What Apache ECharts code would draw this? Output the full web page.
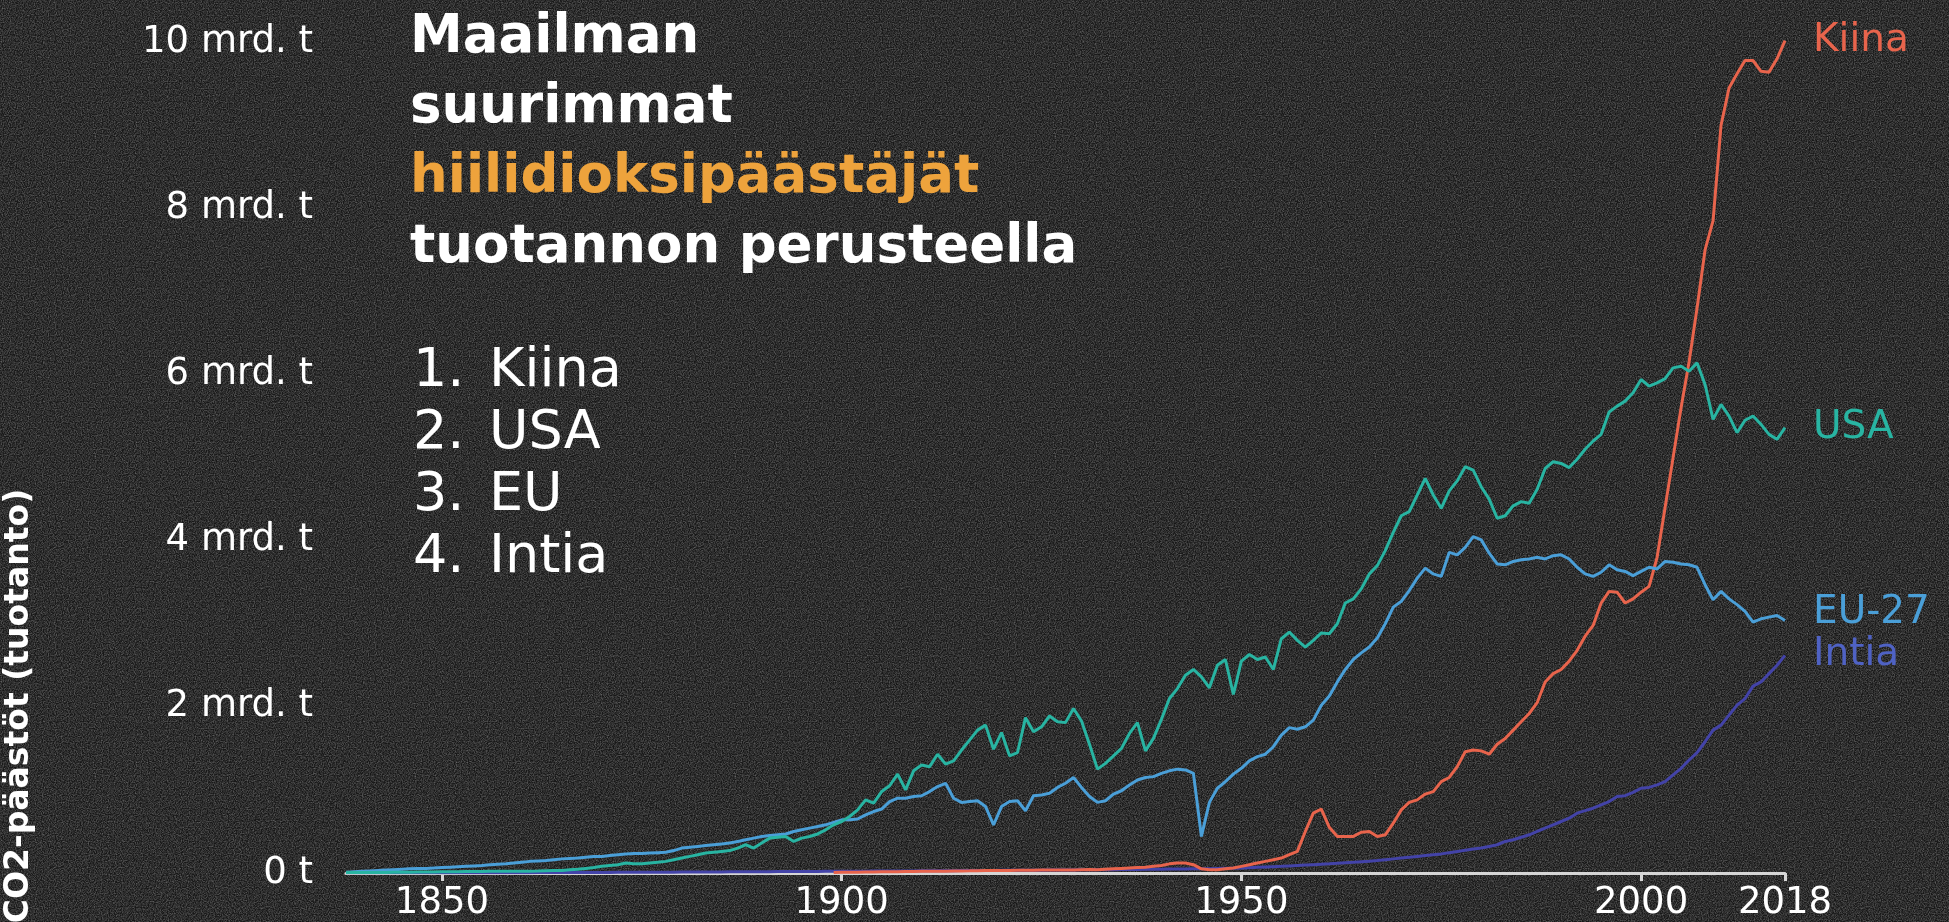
<!DOCTYPE html>
<html>
<head>
<meta charset="utf-8">
<title>Maailman suurimmat hiilidioksipäästäjät</title>
<script src="https://cdn.jsdelivr.net/npm/echarts@6/dist/echarts.min.js"></script>
<style>
  html, body {
    margin: 0;
    padding: 0;
    background-color: #171717;
    /* grainy dark backdrop */
    background-image: url("data:image/svg+xml,%3Csvg xmlns='http://www.w3.org/2000/svg' width='320' height='320'%3E%3Cfilter id='n'%3E%3CfeTurbulence type='fractalNoise' baseFrequency='0.85' numOctaves='2' stitchTiles='stitch'/%3E%3CfeColorMatrix values='0 0 0 0 1 0 0 0 0 1 0 0 0 0 1 0 0 0 1.4 -0.45'/%3E%3C/filter%3E%3Crect width='100%25' height='100%25' filter='url(%23n)' opacity='0.4'/%3E%3C/svg%3E");
  }
  #chart {
    width: 1949px;
    height: 922px;
  }
</style>
</head>
<body>
<div id="chart"></div>
<script>
// CO2-päästöt, mrd. tonnia vuodessa
const startYear = 1838
const kiinaStart = 1899

const usa = [
  0.005, 0.005, 0.006, 0.006, 0.007, 0.007, 0.008, 0.009, 0.010, 0.011, 0.012, 0.013,
  0.014, 0.015, 0.016, 0.017, 0.018, 0.019, 0.020, 0.021, 0.021, 0.022,
  0.022, 0.022, 0.024, 0.027, 0.030, 0.030, 0.038, 0.045, 0.055, 0.065,
  0.080, 0.090, 0.100, 0.120, 0.110, 0.110, 0.120, 0.130, 0.140, 0.160,
  0.180, 0.200, 0.220, 0.240, 0.250, 0.260, 0.270, 0.300, 0.340, 0.300,
  0.360, 0.420, 0.430, 0.440, 0.380, 0.420, 0.440, 0.470, 0.520, 0.580,
  0.620, 0.680, 0.760, 0.880, 0.840, 0.980, 1.050, 1.190, 1.000, 1.230,
  1.300, 1.280, 1.430, 1.310, 1.350, 1.480, 1.600, 1.720, 1.780, 1.490,
  1.690, 1.410, 1.450, 1.870, 1.700, 1.760, 1.890, 1.820, 1.810, 1.980,
  1.830, 1.550, 1.250, 1.320, 1.410, 1.500, 1.680, 1.810, 1.470, 1.620,
  1.850, 2.100, 2.220, 2.380, 2.450, 2.360, 2.230, 2.500, 2.570, 2.150,
  2.550, 2.630, 2.570, 2.600, 2.450, 2.820, 2.900, 2.800, 2.720, 2.800,
  2.890, 2.880, 3.000, 3.250, 3.300, 3.420, 3.600, 3.700, 3.880, 4.100,
  4.300, 4.350, 4.550, 4.750, 4.550, 4.390, 4.600, 4.720, 4.890, 4.850,
  4.650, 4.500, 4.270, 4.300, 4.420, 4.470, 4.450, 4.620, 4.870, 4.950,
  4.930, 4.880, 4.980, 5.100, 5.200, 5.280, 5.550, 5.620, 5.680, 5.780,
  5.940, 5.860, 5.900, 5.950, 6.080, 6.100, 6.040, 6.140, 5.880, 5.460,
  5.640, 5.500, 5.300, 5.450, 5.500, 5.400, 5.280, 5.220, 5.360
]

const eu27 = [
  0.010, 0.015, 0.020, 0.025, 0.030, 0.035, 0.040, 0.045, 0.050, 0.055, 0.055, 0.060,
  0.065, 0.070, 0.075, 0.080, 0.085, 0.090, 0.100, 0.105, 0.110, 0.120,
  0.130, 0.140, 0.145, 0.150, 0.160, 0.170, 0.175, 0.180, 0.190, 0.200,
  0.200, 0.210, 0.220, 0.230, 0.235, 0.235, 0.240, 0.245, 0.250, 0.270,
  0.300, 0.310, 0.320, 0.330, 0.340, 0.350, 0.360, 0.380, 0.400, 0.420,
  0.440, 0.450, 0.460, 0.470, 0.500, 0.520, 0.540, 0.560, 0.580, 0.610,
  0.640, 0.640, 0.650, 0.700, 0.740, 0.770, 0.860, 0.900, 0.900, 0.920,
  0.930, 0.980, 1.040, 1.080, 0.900, 0.850, 0.860, 0.870, 0.800, 0.580,
  0.800, 0.860, 0.870, 0.750, 0.930, 0.940, 0.960, 1.030, 1.080, 1.150,
  1.030, 0.920, 0.850, 0.870, 0.950, 0.990, 1.060, 1.120, 1.150, 1.160,
  1.200, 1.230, 1.250, 1.240, 1.200, 0.440, 0.850, 1.020, 1.100, 1.190,
  1.260, 1.350, 1.400, 1.430, 1.520, 1.660, 1.750, 1.730, 1.760, 1.840,
  2.020, 2.130, 2.300, 2.450, 2.570, 2.650, 2.720, 2.830, 3.000, 3.200,
  3.270, 3.400, 3.550, 3.670, 3.600, 3.570, 3.860, 3.830, 3.920, 4.050,
  4.010, 3.850, 3.720, 3.710, 3.750, 3.770, 3.780, 3.800, 3.780, 3.820,
  3.830, 3.780, 3.680, 3.600, 3.570, 3.620, 3.710, 3.650, 3.630, 3.580,
  3.630, 3.680, 3.660, 3.750, 3.740, 3.720, 3.710, 3.680, 3.470, 3.290,
  3.390, 3.300, 3.230, 3.150, 3.020, 3.060, 3.080, 3.100, 3.040
]

const kiina = [
  0.005,
  0.008, 0.009, 0.010, 0.012, 0.013, 0.014, 0.015, 0.016, 0.017, 0.018,
  0.020, 0.020, 0.020, 0.022, 0.024, 0.025, 0.026, 0.028, 0.030, 0.030,
  0.030, 0.030, 0.032, 0.033, 0.034, 0.035, 0.035, 0.036, 0.036, 0.037,
  0.040, 0.042, 0.040, 0.045, 0.050, 0.055, 0.060, 0.065, 0.070, 0.080,
  0.090, 0.110, 0.120, 0.120, 0.100, 0.050, 0.040, 0.040, 0.050, 0.060,
  0.080, 0.100, 0.120, 0.140, 0.160, 0.180, 0.220, 0.260, 0.500, 0.720,
  0.770, 0.550, 0.440, 0.440, 0.440, 0.490, 0.500, 0.440, 0.460, 0.600,
  0.760, 0.850, 0.880, 0.950, 0.980, 1.100, 1.150, 1.280, 1.460, 1.480,
  1.470, 1.430, 1.550, 1.620, 1.720, 1.820, 1.920, 2.050, 2.300, 2.400,
  2.450, 2.550, 2.680, 2.850, 2.980, 3.250, 3.390, 3.380, 3.250, 3.300,
  3.380, 3.450, 3.800, 4.400, 5.000, 5.600, 6.150, 6.800, 7.500, 7.850,
  9.000, 9.450, 9.620, 9.780, 9.780, 9.650, 9.640, 9.800, 10.020
]

const intia = [
  0.002, 0.002, 0.002, 0.002, 0.002, 0.002, 0.002, 0.002, 0.002, 0.002, 0.002, 0.002,
  0.002, 0.002, 0.003, 0.003, 0.003, 0.003, 0.003, 0.004, 0.004, 0.004,
  0.004, 0.004, 0.005, 0.005, 0.005, 0.005, 0.006, 0.006, 0.006, 0.007,
  0.007, 0.007, 0.008, 0.008, 0.008, 0.009, 0.009, 0.010, 0.010, 0.010,
  0.011, 0.011, 0.012, 0.012, 0.013, 0.013, 0.014, 0.014, 0.015, 0.015,
  0.016, 0.016, 0.017, 0.017, 0.018, 0.018, 0.019, 0.019, 0.020, 0.020,
  0.021, 0.021, 0.022, 0.022, 0.023, 0.023, 0.024, 0.024, 0.025, 0.025,
  0.026, 0.026, 0.027, 0.028, 0.028, 0.029, 0.030, 0.030, 0.031, 0.031,
  0.032, 0.032, 0.033, 0.033, 0.034, 0.034, 0.035, 0.036, 0.036, 0.037,
  0.038, 0.038, 0.039, 0.040, 0.040, 0.041, 0.042, 0.043, 0.044, 0.045,
  0.046, 0.047, 0.048, 0.049, 0.050, 0.051, 0.052, 0.054, 0.056, 0.058,
  0.060, 0.064, 0.068, 0.072, 0.076, 0.080, 0.085, 0.090, 0.095, 0.100,
  0.105, 0.110, 0.116, 0.122, 0.128, 0.135, 0.142, 0.150, 0.160, 0.170,
  0.180, 0.190, 0.200, 0.210, 0.220, 0.230, 0.245, 0.260, 0.275, 0.290,
  0.300, 0.320, 0.340, 0.380, 0.400, 0.430, 0.460, 0.500, 0.540, 0.580,
  0.620, 0.660, 0.720, 0.750, 0.780, 0.820, 0.860, 0.920, 0.930, 0.970,
  1.020, 1.030, 1.060, 1.100, 1.180, 1.260, 1.360, 1.450, 1.580, 1.720,
  1.780, 1.900, 2.020, 2.100, 2.250, 2.300, 2.400, 2.500, 2.620
]

const xTicks = [1850, 1900, 1950, 2000, 2018]
const yTicks = [0, 2, 4, 6, 8, 10]

const titleLines = ['Maailman', 'suurimmat', 'hiilidioksipäästäjät', 'tuotannon perusteella']
const rankNames = ['Kiina', 'USA', 'EU', 'Intia']

function toPairs (start, values) {
  return values.map((v, i) => [start + i, v])
}

const font = 'DejaVu Sans'

function lineSeries (name, color, labelColor, start, values, labelOffset) {
  return {
    name: name,
    type: 'line',
    data: toPairs(start, values),
    showSymbol: false,
    symbol: 'none',
    silent: true,
    lineStyle: { color: color, width: 3 },
    itemStyle: { color: color },
    endLabel: {
      show: true,
      formatter: '{a}',
      color: labelColor,
      fontFamily: font,
      fontSize: 39,
      distance: 28,
      offset: labelOffset || [0, 0]
    }
  }
}

let graphics = []
titleLines.forEach((t, i) => {
  graphics.push({
    type: 'text',
    x: 410,
    y: 38 + i * 70,
    style: {
      text: t,
      fill: i === 2 ? '#eea33c' : '#ffffff',
      font: 'bold 53px "' + font + '"',
      verticalAlign: 'middle'
    }
  })
})
rankNames.forEach((t, i) => {
  graphics.push({
    type: 'text',
    x: 413,
    y: 372 + i * 62,
    style: { text: (i + 1) + '.', fill: '#ffffff', font: '54px "' + font + '"', verticalAlign: 'middle' }
  })
  graphics.push({
    type: 'text',
    x: 489,
    y: 372 + i * 62,
    style: { text: t, fill: '#ffffff', font: '54px "' + font + '"', verticalAlign: 'middle' }
  })
})
// akselin nimi, sijoitettu alas kuten alkuperäisessä
graphics.push({
  type: 'text',
  x: 19,
  y: 706,
  rotation: Math.PI / 2,
  style: {
    text: 'CO2-päästöt (tuotanto)',
    fill: '#ffffff',
    font: 'bold 33px "' + font + '"',
    align: 'center',
    verticalAlign: 'middle'
  }
})

let chart = echarts.init(document.getElementById('chart'))
let option = {
  backgroundColor: 'transparent',
  animation: false,
  grid: {
    left: 346,
    right: 164,
    top: 9,
    bottom: 48
  },
  xAxis: {
    type: 'value',
    min: 1838,
    max: 2018,
    splitLine: { show: false },
    axisLine: { show: true, lineStyle: { color: '#d6d6d6', width: 3 } },
    axisTick: {
      show: true,
      customValues: xTicks,
      length: 8,
      lineStyle: { color: '#d6d6d6', width: 3 }
    },
    axisLabel: {
      customValues: xTicks,
      color: '#ffffff',
      fontFamily: font,
      fontSize: 37,
      margin: 12,
      formatter: v => String(v)
    }
  },
  yAxis: {
    type: 'value',
    min: 0,
    max: 10.4,
    splitLine: { show: false },
    axisLine: { show: false },
    axisTick: { show: false },
    axisLabel: {
      customValues: yTicks,
      color: '#ffffff',
      fontFamily: font,
      fontSize: 37,
      margin: 33,
      formatter: v => (v === 0 ? '0 t' : v + ' mrd. t')
    }
  },
  graphic: graphics,
  series: [
    lineSeries('Intia', '#4343a8', '#4f62c4', startYear, intia),
    lineSeries('Kiina', '#e8644c', '#e8644c', kiinaStart, kiina),
    lineSeries('EU-27', '#4a9fd8', '#4a9fd8', startYear, eu27, [0, -8]),
    lineSeries('USA', '#28b4a2', '#28b4a2', startYear, usa)
  ]
}
chart.setOption(option)
</script>
</body>
</html>
